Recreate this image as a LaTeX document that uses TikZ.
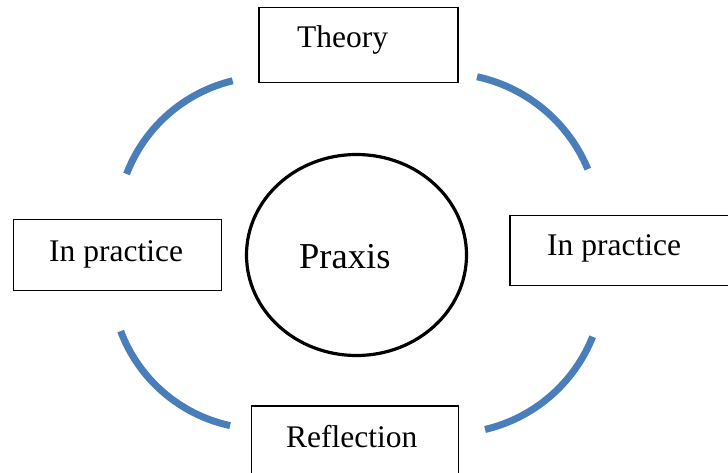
\documentclass[tikz,border=0pt]{standalone}
\usepackage{fontspec}
\setmainfont{Liberation Serif}
\usetikzlibrary{shapes.geometric,calc}
\definecolor{arcblue}{RGB}{74,126,187}
\tikzset{
  boxnode/.style={draw=black, line width=1.5pt, rectangle, inner sep=0pt},
  lbl/.style={anchor=base west, inner sep=0pt, font=\fontsize{31.5}{36}\selectfont},
  bigl/.style={anchor=base west, inner sep=0pt, font=\fontsize{36.5}{42}\selectfont},
  bluearc/.style={draw=arcblue, line width=7pt},
}
\begin{document}
\begin{tikzpicture}[x=1pt,y=-1pt]
\useasboundingbox (0,0) rectangle (728,472);
% boxes
\node[boxnode, minimum width=199pt, minimum height=75pt] (theorybox) at (358.5,45) {};
\node[boxnode, minimum width=208pt, minimum height=71pt] (leftbox) at (117.5,255) {};
\node[boxnode, minimum width=220pt, minimum height=70pt] (rightbox) at (620,250.5) {};
\node[boxnode, minimum width=207pt, minimum height=70pt] (reflbox) at (355,441) {};
% central ellipse
\node[draw=black, line width=3.2pt, ellipse, inner sep=0pt, minimum width=220pt, minimum height=201pt] (praxis) at (356.5,255) {};
% texts
\node[lbl] (theory) at (297,47) {Theory};
\node[lbl] (leftp) at (49,261) {In practice};
\node[lbl] (rightp) at (547,255) {In practice};
\node[lbl] (refl) at (286,447) {Reflection};
\node[bigl] (praxist) at (299,268) {Praxis};
% arcs
\coordinate (tl) at ($(268,228)+(-103.5:151.4)$);
\coordinate (tr) at ($(444,229)+(-77.75:155.8)$);
\coordinate (bl) at ($(262,278)+(159.4:151)$);
\coordinate (br) at ($(450,280)+(21.7:153.5)$);
\draw[bluearc] (tl) arc[start angle=-103.5, end angle=-159.1, radius=151.4];
\draw[bluearc] (tr) arc[start angle=-77.75, end angle=-22.6, radius=155.8];
\draw[bluearc] (bl) arc[start angle=159.4, end angle=102.2, radius=151];
\draw[bluearc] (br) arc[start angle=21.7, end angle=76.8, radius=153.5];
\end{tikzpicture}
\end{document}
